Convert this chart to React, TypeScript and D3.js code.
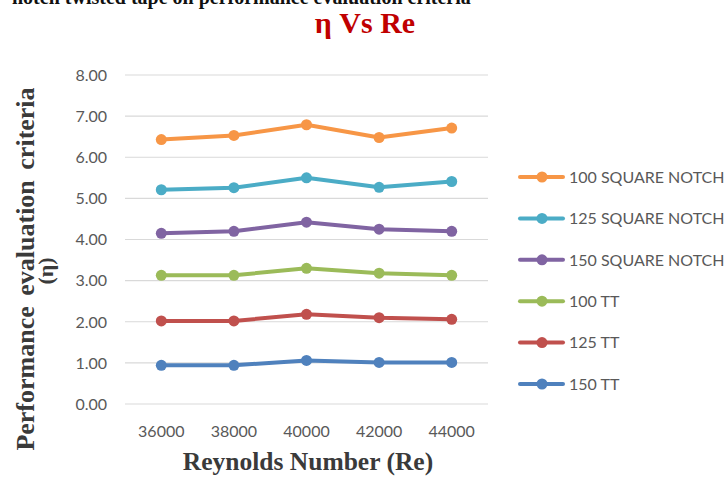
import React from 'react';
import { line, scaleLinear, scalePoint } from 'd3';

const reynolds = ['36000', '38000', '40000', '42000', '44000'];
const yTicks = [0, 1, 2, 3, 4, 5, 6, 7, 8];

const seriesNames = [
  '100 SQUARE NOTCH',
  '125 SQUARE NOTCH',
  '150 SQUARE NOTCH',
  '100 TT',
  '125 TT',
  '150 TT',
];
const seriesColors = ['#F79646', '#4BACC6', '#8064A2', '#9BBB59', '#C0504D', '#4F81BD'];

const sq100 = [6.43, 6.53, 6.79, 6.48, 6.71];
const sq125 = [5.21, 5.26, 5.5, 5.27, 5.41];
const sq150 = [4.15, 4.2, 4.42, 4.25, 4.2];
const tt100 = [3.13, 3.13, 3.3, 3.18, 3.13];
const tt125 = [2.02, 2.02, 2.18, 2.1, 2.06];
const tt150 = [0.94, 0.94, 1.06, 1.01, 1.01];

const seriesValues = [sq100, sq125, sq150, tt100, tt125, tt150];

const tickFont = 'Lato, "Open Sans", sans-serif';
const serif = '"Liberation Serif", "Times New Roman", serif';

export default function App() {
  const width = 728;
  const height = 483;
  const margin = { top: 75, right: 240, bottom: 79, left: 125 };

  const scaleX = scalePoint<string>()
    .domain(reynolds)
    .range([margin.left, width - margin.right])
    .padding(0.5);
  const scaleY = scaleLinear().domain([0, 8]).range([height - margin.bottom, margin.top]);

  const path = line<number>()
    .x((_, i) => scaleX(reynolds[i]) as number)
    .y((d) => scaleY(d));

  const legendX = 520;
  const legendY = 177;
  const legendStep = 41.4;

  return (
    <svg
      width={width}
      height={height}
      style={{ position: 'absolute', left: 0, top: 0, background: '#fff' }}
    >
      <text
        x={12}
        y={4}
        fontFamily={serif}
        fontWeight="bold"
        fontSize={20}
        fill="#111"
      >
        notch twisted tape on performance evaluation criteria
      </text>
      <text
        x={365}
        y={33}
        textAnchor="middle"
        fontFamily={serif}
        fontWeight="bold"
        fontSize={30}
        fill="#C00000"
      >
        η Vs Re
      </text>

      {yTicks.map((t) => (
        <g key={`grid-${t}`}>
          <line
            x1={margin.left}
            x2={width - margin.right}
            y1={scaleY(t)}
            y2={scaleY(t)}
            stroke="#D9D9D9"
            strokeWidth={1.2}
          />
          <text
            x={107}
            y={scaleY(t)}
            dy="0.36em"
            textAnchor="end"
            fontFamily={tickFont}
            fontSize={16}
            fill="#595959"
          >
            {t.toFixed(2)}
          </text>
        </g>
      ))}

      {reynolds.map((r) => (
        <text
          key={`xt-${r}`}
          x={scaleX(r)}
          y={437}
          textAnchor="middle"
          fontFamily={tickFont}
          fontSize={16}
          fill="#595959"
        >
          {r}
        </text>
      ))}

      {seriesValues.map((vals, si) => (
        <g key={`s-${si}`}>
          <path
            d={path(vals) || ''}
            fill="none"
            stroke={seriesColors[si]}
            strokeWidth={4}
            strokeLinejoin="round"
          />
          {vals.map((v, i) => (
            <circle
              key={`p-${si}-${i}`}
              cx={scaleX(reynolds[i])}
              cy={scaleY(v)}
              r={5.5}
              fill={seriesColors[si]}
            />
          ))}
        </g>
      ))}

      {seriesNames.map((name, i) => {
        const y = legendY + i * legendStep;
        return (
          <g key={`lg-${name}`}>
            <line
              x1={legendX}
              x2={legendX + 43}
              y1={y}
              y2={y}
              stroke={seriesColors[i]}
              strokeWidth={4}
              strokeLinecap="round"
            />
            <circle cx={legendX + 22} cy={y} r={5.5} fill={seriesColors[i]} />
            <text
              x={legendX + 49}
              y={y}
              dy="0.36em"
              fontFamily={tickFont}
              fontSize={16}
              fill="#595959"
            >
              {name}
            </text>
          </g>
        );
      })}

      <text
        transform="translate(34, 269) rotate(-90)"
        textAnchor="middle"
        fontFamily={serif}
        fontWeight="bold"
        fontSize={26}
        wordSpacing={4}
        fill="#3a3a3a"
      >
        Performance evaluation criteria
      </text>
      <text
        transform="translate(53, 271) rotate(-90)"
        textAnchor="middle"
        fontFamily={serif}
        fontWeight="bold"
        fontSize={22}
        fill="#3a3a3a"
      >
        (η)
      </text>

      <text
        x={308}
        y={470}
        textAnchor="middle"
        fontFamily={serif}
        fontWeight="bold"
        fontSize={25.5}
        fill="#3a3a3a"
      >
        Reynolds Number (Re)
      </text>
    </svg>
  );
}
